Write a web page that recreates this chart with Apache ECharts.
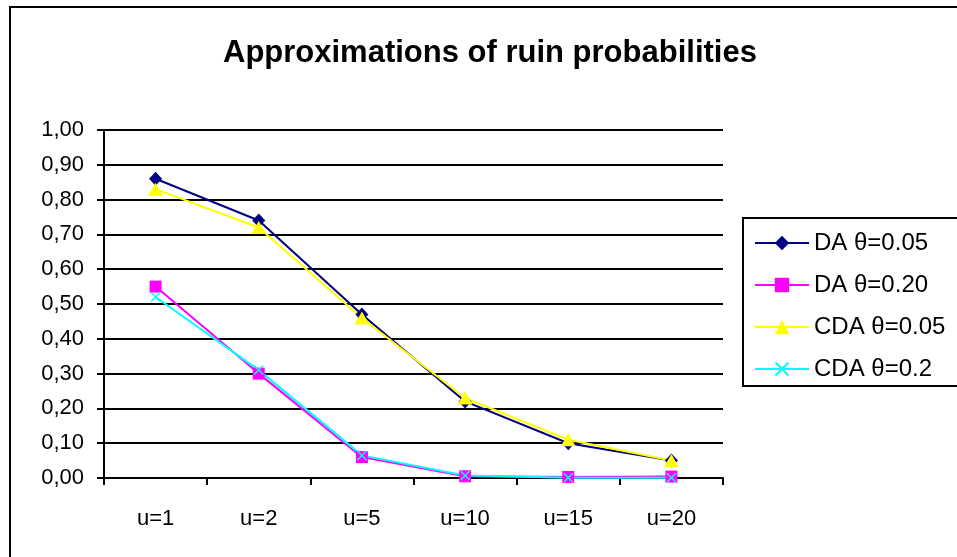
<!DOCTYPE html>
<html>
<head>
<meta charset="utf-8">
<title>Approximations of ruin probabilities</title>
<script src="https://cdn.jsdelivr.net/npm/echarts@6/dist/echarts.min.js"></script>
<style>
  html, body { margin: 0; padding: 0; background: #fff; }
  #chart { width: 957px; height: 557px; }
</style>
</head>
<body>
<div id="chart"></div>
<script>
// categories (initial capital u)
var categories = ['u=1', 'u=2', 'u=5', 'u=10', 'u=15', 'u=20'];

// ruin probability approximations
var daTheta005 = [0.86, 0.74, 0.47, 0.22, 0.10, 0.05];
var daTheta020 = [0.55, 0.30, 0.06, 0.005, 0.003, 0.004];
var cdaTheta005 = [0.83, 0.72, 0.46, 0.23, 0.11, 0.05];
var cdaTheta02 = [0.52, 0.31, 0.065, 0.007, 0.001, 0.001];

var seriesNames = ['DA θ=0.05', 'DA θ=0.20', 'CDA θ=0.05', 'CDA θ=0.2'];

var font = 'Liberation Sans, Arial, sans-serif';
// filled "x" marker
var crossPath = 'path://M0,1L1,0L5,4L9,0L10,1L6,5L10,9L9,10L5,6L1,10L0,9L4,5Z';

var chart = echarts.init(document.getElementById('chart'));

function lineSeries (name, data, color, symbol, size) {
  return {
    name: name,
    type: 'line',
    data: data,
    symbol: symbol,
    symbolSize: size,
    showAllSymbol: true,
    lineStyle: { color: color, width: 2 },
    itemStyle: { color: color, borderWidth: 0 },
    emphasis: { disabled: true },
    animation: false
  };
}

chart.setOption({
  backgroundColor: '#fff',
  title: {
    text: 'Approximations of ruin probabilities',
    left: 218,
    top: 33,
    textStyle: {
      fontFamily: font,
      fontSize: 31,
      fontWeight: 'bold',
      color: '#000'
    }
  },
  graphic: [{
    type: 'rect',
    shape: { x: 10, y: 7, width: 960, height: 560 },
    style: { fill: 'none', stroke: '#000', lineWidth: 2 },
    silent: true,
    z: -1
  }],
  legend: {
    orient: 'vertical',
    left: 743,
    top: 218,
    padding: [13, 24, 5, 11],
    itemGap: 18,
    itemWidth: 54,
    itemHeight: 18,
    borderColor: '#000',
    borderWidth: 2,
    backgroundColor: '#fff',
    data: seriesNames,
    textStyle: { fontFamily: font, fontSize: 24, color: '#000' }
  },
  grid: {
    left: 104,
    right: 234,
    top: 130,
    bottom: 79,
    containLabel: false
  },
  xAxis: {
    type: 'category',
    data: categories,
    boundaryGap: true,
    axisLine: { lineStyle: { color: '#000', width: 2 } },
    axisTick: { show: true, length: 7, inside: false, lineStyle: { color: '#000', width: 2 } },
    axisLabel: { margin: 30, fontFamily: font, fontSize: 22, color: '#000' },
    splitLine: { show: false }
  },
  yAxis: {
    type: 'value',
    min: 0,
    max: 1,
    interval: 0.1,
    axisLine: { show: true, lineStyle: { color: '#000', width: 2 } },
    axisTick: { show: true, length: 7, lineStyle: { color: '#000', width: 2 } },
    axisLabel: {
      margin: 20,
      fontFamily: font,
      fontSize: 22,
      color: '#000',
      formatter: function (v) {
        return v.toFixed(2).replace('.', ',');
      }
    },
    splitLine: { show: true, lineStyle: { color: '#000', width: 2 } }
  },
  series: [
    lineSeries(seriesNames[0], daTheta005, '#000080', 'diamond', [13, 14]),
    lineSeries(seriesNames[1], daTheta020, '#FF00FF', 'rect', 12),
    lineSeries(seriesNames[2], cdaTheta005, '#FFFF00', 'triangle', [15, 13]),
    lineSeries(seriesNames[3], cdaTheta02, '#00FFFF', crossPath, 10)
  ]
});
</script>
</body>
</html>
